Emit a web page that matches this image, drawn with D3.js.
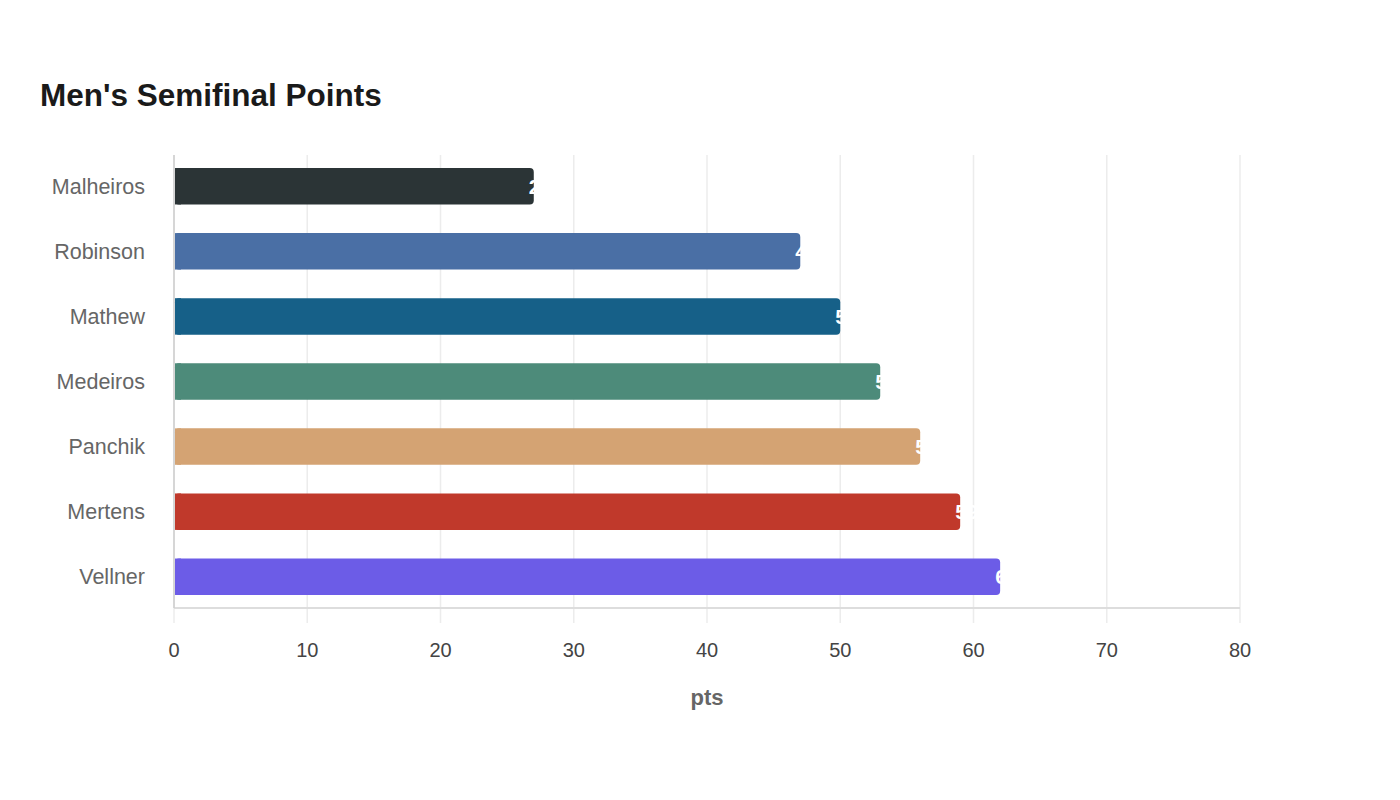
<!DOCTYPE html>
<html>
<head>
<meta charset="utf-8">
<script src="https://cdn.jsdelivr.net/npm/d3@7"></script>
<style>
  body { margin: 0; background: #fff; font-family: "Liberation Sans", Arial, sans-serif; }
</style>
</head>
<body>
<div id="chart"></div>
<script>
var athletes = ["Malheiros", "Robinson", "Mathew", "Medeiros", "Panchik", "Mertens", "Vellner"];
var points = [27, 47, 50, 53, 56, 59, 62];
var barColors = ["#2b3436", "#4a6fa5", "#166088", "#4d8b7a", "#d4a373", "#c0392b", "#6c5ce7"];
var xTicks = [0, 10, 20, 30, 40, 50, 60, 70, 80];

var svgWidth = 1400;
var svgHeight = 800;
var margin = { top: 155, right: 160, bottom: 192, left: 174 };
var width = svgWidth - margin.left - margin.right;
var height = svgHeight - margin.top - margin.bottom;

var svg = d3.select("#chart").append("svg")
  .attr("width", svgWidth)
  .attr("height", svgHeight);

svg.append("text")
  .attr("x", 40)
  .attr("y", 106)
  .attr("font-size", 31.5)
  .attr("font-weight", "bold")
  .attr("fill", "#1a1a1a")
  .text("Men's Semifinal Points");

var chartGroup = svg.append("g")
  .attr("transform", `translate(${margin.left}, ${margin.top})`);

var x = d3.scaleLinear().domain([0, 80]).range([0, width]);
var y = d3.scaleBand().domain(athletes).range([0, height])
  .paddingInner(0.44).paddingOuter(0.2);

// gridlines + ticks
chartGroup.selectAll(".grid")
  .data(xTicks)
  .enter()
  .append("line")
  .attr("x1", d => x(d))
  .attr("x2", d => x(d))
  .attr("y1", 0)
  .attr("y2", height + 15)
  .attr("stroke", "#ececec")
  .attr("stroke-width", 1.5);

// bottom axis line
chartGroup.append("line")
  .attr("x1", 0).attr("x2", width)
  .attr("y1", height).attr("y2", height)
  .attr("stroke", "#dddddd").attr("stroke-width", 2);

// left axis line
chartGroup.append("line")
  .attr("x1", 0).attr("x2", 0)
  .attr("y1", 0).attr("y2", height)
  .attr("stroke", "#cccccc").attr("stroke-width", 1.5);

// x tick labels
chartGroup.selectAll(".xlabel")
  .data(xTicks)
  .enter()
  .append("text")
  .attr("x", d => x(d))
  .attr("y", height + 49)
  .attr("text-anchor", "middle")
  .attr("font-size", 20)
  .attr("fill", "#444")
  .text(d => d);

// y labels
chartGroup.selectAll(".ylabel")
  .data(athletes)
  .enter()
  .append("text")
  .attr("x", -29)
  .attr("y", d => y(d) + y.bandwidth() / 2)
  .attr("dy", "0.35em")
  .attr("text-anchor", "end")
  .attr("font-size", 21.5)
  .attr("fill", "#666")
  .text(d => d);

// bars
chartGroup.selectAll(".bar")
  .data(athletes)
  .enter()
  .append("rect")
  .attr("x", 1)
  .attr("y", d => y(d))
  .attr("width", (d, i) => x(points[i]) - 1)
  .attr("height", y.bandwidth())
  .attr("rx", 4)
  .attr("fill", (d, i) => barColors[i]);

// square off left corners
chartGroup.selectAll(".barleft")
  .data(athletes)
  .enter()
  .append("rect")
  .attr("x", 1)
  .attr("y", d => y(d))
  .attr("width", 6)
  .attr("height", y.bandwidth())
  .attr("fill", (d, i) => barColors[i]);

// value labels (white, mostly hidden past bar end)
chartGroup.selectAll(".val")
  .data(athletes)
  .enter()
  .append("text")
  .attr("x", (d, i) => x(points[i]) - 5)
  .attr("y", d => y(d) + y.bandwidth() / 2)
  .attr("dy", "0.36em")
  .attr("font-size", 21)
  .attr("font-weight", "bold")
  .attr("fill", "#fff")
  .text((d, i) => points[i]);

// axis title
svg.append("text")
  .attr("x", margin.left + width / 2)
  .attr("y", 705)
  .attr("text-anchor", "middle")
  .attr("font-size", 22)
  .attr("font-weight", "bold")
  .attr("fill", "#666")
  .text("pts");
</script>
</body>
</html>
